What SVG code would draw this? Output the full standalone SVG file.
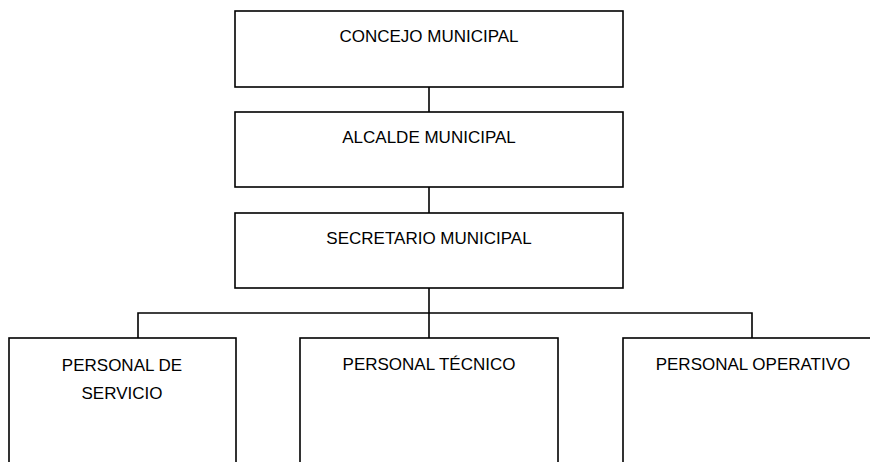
<svg xmlns="http://www.w3.org/2000/svg" width="870" height="462" viewBox="0 0 870 462">
<style>
.box{fill:#fff;stroke:#000;stroke-width:1.6}
.lbl{font-family:"Liberation Sans",Arial,sans-serif;font-size:17px;fill:#000;text-anchor:middle}
.con{fill:none;stroke:#000;stroke-width:1.6}
</style>
<rect width="870" height="462" fill="#fff"/>
<g id="connectors">
<line class="con" x1="429" y1="87" x2="429" y2="112"/>
<line class="con" x1="429" y1="187" x2="429" y2="213"/>
<line class="con" x1="429" y1="288" x2="429" y2="338"/>
<polyline class="con" points="138,338 138,313 752,313 752,338"/>
</g>
<g id="concejo">
<rect class="box" x="235" y="11" width="388" height="76"/>
<text class="lbl" x="429" y="42">CONCEJO MUNICIPAL</text>
</g>
<g id="alcalde">
<rect class="box" x="235" y="112" width="388" height="75"/>
<text class="lbl" x="429" y="143">ALCALDE MUNICIPAL</text>
</g>
<g id="secretario">
<rect class="box" x="235" y="213" width="388" height="75"/>
<text class="lbl" x="429" y="244">SECRETARIO MUNICIPAL</text>
</g>
<g id="servicio">
<rect class="box" x="9" y="338" width="227" height="140"/>
<text class="lbl" x="122" y="371">PERSONAL DE</text>
<text class="lbl" x="122" y="399">SERVICIO</text>
</g>
<g id="tecnico">
<rect class="box" x="300" y="338" width="258" height="140"/>
<text class="lbl" x="429" y="370">PERSONAL TÉCNICO</text>
</g>
<g id="operativo">
<rect class="box" x="623" y="338" width="260" height="140"/>
<text class="lbl" x="753" y="370">PERSONAL OPERATIVO</text>
</g>
</svg>
